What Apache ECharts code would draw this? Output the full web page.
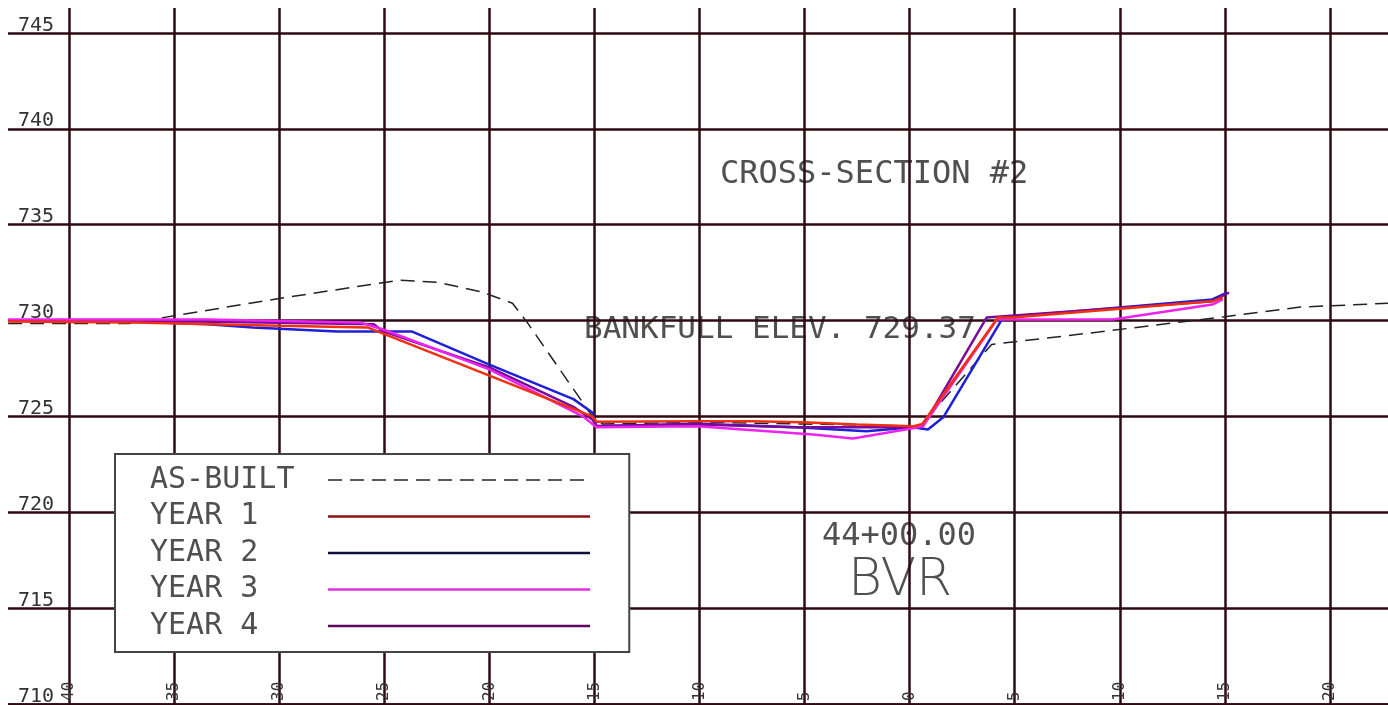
<!DOCTYPE html>
<html>
<head>
<meta charset="utf-8">
<title>Cross-Section #2</title>
<script src="https://cdn.jsdelivr.net/npm/echarts@6.0.0/dist/echarts.min.js"></script>
<style>
  html, body { margin: 0; padding: 0; background: #fff; }
  #main { width: 1388px; height: 705px; }
</style>
</head>
<body>
<div id="main"></div>
<script>
// [station, elevation] pairs
var asBuilt = [
  [-42.9, 729.85], [-37.1, 729.85], [-35.8, 730.1], [-30.0, 731.15], [-24.9, 732.0],
  [-24.3, 732.1], [-22.5, 732.0], [-20.4, 731.5], [-18.9, 730.9], [-18.2, 729.9],
  [-15.1, 725.0], [-14.6, 724.6], [-10.0, 724.7], [-5.0, 724.6], [0.5, 724.5],
  [3.9, 728.75], [9.0, 729.4], [15.0, 730.2], [18.6, 730.7], [22.8, 730.9]
]
var year1 = [
  [-42.9, 729.95], [-36.9, 729.9], [-30.0, 729.72], [-25.8, 729.64], [-15.1, 725.0],
  [-14.9, 724.72], [-10.1, 724.74], [-7.5, 724.74], [-5.1, 724.69], [-2.5, 724.58],
  [0.15, 724.48], [0.6, 724.6], [4.2, 730.16], [4.9, 730.16], [14.4, 731.0], [14.9, 731.2]
]
var year2 = [
  [-42.9, 730.0], [-36.95, 729.95], [-33.4, 729.8], [-31.25, 729.64], [-27.25, 729.43],
  [-23.7, 729.43], [-23.45, 729.32], [-20.0, 727.7], [-16.0, 725.9], [-15.1, 725.2],
  [-14.9, 724.48], [-10.1, 724.62], [-5.4, 724.43], [-2.05, 724.22], [0.15, 724.43],
  [0.87, 724.32], [1.6, 724.95], [4.45, 730.16], [4.9, 730.2], [14.4, 731.1], [15.1, 731.45]
]
var year3 = [
  [-42.9, 730.05], [-36.95, 730.05], [-33.4, 730.05], [-26.15, 729.9], [-25.05, 729.53],
  [-20.0, 727.45], [-15.55, 725.0], [-14.9, 724.43], [-10.1, 724.48], [-4.6, 724.06],
  [-2.7, 723.85], [0.15, 724.38], [0.63, 724.48], [4.15, 730.05], [9.67, 730.05],
  [14.4, 730.83], [14.9, 731.1]
]
var year4 = [
  [-42.9, 730.0], [-36.95, 730.0], [-25.5, 729.8], [-25.05, 729.43], [-20.0, 727.55],
  [-16.0, 725.5], [-15.1, 724.84], [-14.9, 724.5], [-10.1, 724.58], [-5.4, 724.43],
  [-0.45, 724.43], [0.63, 724.48], [3.67, 730.16], [4.15, 730.2], [14.4, 731.0], [15.2, 731.46]
]
var names = ['AS-BUILT', 'YEAR 1', 'YEAR 2', 'YEAR 3', 'YEAR 4']

var chart = echarts.init(document.getElementById('main'))
var gridColor = '#2e0a12'
var textColor = '#505050'
var mono = '"DejaVu Sans Mono", monospace'

function lineSeries(name, data, color, width, type) {
  return {
    name: name,
    type: 'line',
    data: data,
    symbol: 'none',
    silent: true,
    itemStyle: { color: color },
    lineStyle: { color: color, width: width, type: type || 'solid' }
  }
}

var option = {
  animation: false,
  backgroundColor: '#fff',
  // grid runs past the picture so the 5 ft ticks land where the CAD grid is
  grid: { left: -36, right: -47, top: -63, bottom: 1, outerBoundsMode: 'none', containLabel: false },
  xAxis: {
    type: 'value',
    min: -45,
    max: 25,
    interval: 5,
    axisLine: { show: true, lineStyle: { color: gridColor, width: 2.5 } },
    axisTick: { show: false },
    axisLabel: {
      inside: true,
      rotate: 90,
      margin: 3,
      color: '#333',
      fontFamily: mono,
      fontSize: 16,
      formatter: function (v) { return Math.abs(v) }
    },
    splitLine: { show: true, lineStyle: { color: gridColor, width: 2.5 } }
  },
  yAxis: {
    type: 'value',
    min: 710,
    max: 750,
    interval: 5,
    axisLine: { show: false },
    axisTick: { show: false },
    axisLabel: {
      inside: true,
      margin: 54,
      verticalAlign: 'bottom',
      lineHeight: 15,
      color: '#333',
      fontFamily: mono,
      fontSize: 20
    },
    splitLine: { lineStyle: { color: gridColor, width: 2.5 } }
  },
  legend: {
    orient: 'vertical',
    left: 115,
    top: 454,
    align: 'right',
    padding: [11, 38, 11, 35],
    itemWidth: 262,
    itemHeight: 14,
    itemGap: 6.5,
    backgroundColor: '#fff',
    borderColor: '#444',
    borderWidth: 2,
    selectedMode: false,
    itemStyle: { opacity: 0 },
    lineStyle: { width: 2.5 },
    data: [
      { name: names[0], lineStyle: { color: '#222', width: 1.5 } },
      { name: names[1], lineStyle: { color: '#8a1010' } },
      { name: names[2], lineStyle: { color: '#101040' } },
      { name: names[3], lineStyle: { color: '#e030e0' } },
      { name: names[4], lineStyle: { color: '#600860' } }
    ],
    formatter: function (name) { return '{t|' + name + '}' },
    textStyle: {
      rich: {
        t: { width: 173, align: 'left', fontFamily: mono, fontSize: 30, lineHeight: 30, color: textColor }
      }
    }
  },
  graphic: [
    { type: 'rect', z: 100, shape: { x: 0, y: 0, width: 1388, height: 8 }, style: { fill: '#fff' } },
    { type: 'rect', z: 100, shape: { x: 0, y: 0, width: 8, height: 705 }, style: { fill: '#fff' } },
    { type: 'text', x: 720, y: 175, style: { text: 'CROSS-SECTION #2', font: '32px "DejaVu Sans Mono"', fill: textColor, align: 'left', verticalAlign: 'middle' } },
    { type: 'text', x: 584, y: 330, style: { text: 'BANKFULL ELEV. 729.37', font: '31px "DejaVu Sans Mono"', fill: textColor, align: 'left', verticalAlign: 'middle' } },
    { type: 'text', x: 822, y: 537, style: { text: '44+00.00', font: '32px "DejaVu Sans Mono"', fill: textColor, align: 'left', verticalAlign: 'middle' } },
    { type: 'text', x: 848, y: 581, style: { text: 'BVR', font: '200 52px "DejaVu Sans"', fill: textColor, align: 'left', verticalAlign: 'middle' } }
  ],
  series: [
    lineSeries(names[0], asBuilt, '#222', 1.5, [14, 8]),
    lineSeries(names[2], year2, '#1f1fd8', 2.5),
    lineSeries(names[4], year4, '#7a0a9a', 2.5),
    lineSeries(names[3], year3, '#ee22ee', 2.5),
    lineSeries(names[1], year1, '#f03010', 2.5)
  ]
}

chart.setOption(option)
</script>
</body>
</html>
